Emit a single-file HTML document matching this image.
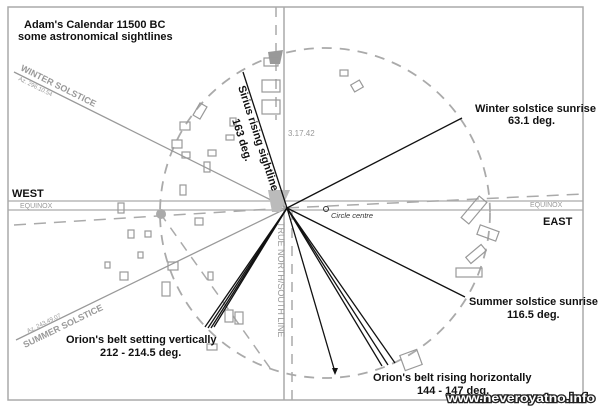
<!DOCTYPE html><html><head><style>body{margin:0;background:#fff}svg{display:block}text{font-family:"Liberation Sans",sans-serif}</style></head><body>
<svg width="600" height="407" viewBox="0 0 600 407">
<rect x="0" y="0" width="600" height="407" fill="#fff"/>
<rect x="8" y="7" width="575" height="393" fill="none" stroke="#aaa" stroke-width="1.5"/>
<line x1="284" y1="7" x2="284" y2="400" stroke="#aaa" stroke-width="1.5"/>
<line x1="8" y1="201" x2="583" y2="201" stroke="#aaa" stroke-width="1.2"/>
<line x1="8" y1="210" x2="583" y2="210" stroke="#aaa" stroke-width="1.2"/>
<line x1="276" y1="7" x2="276" y2="120" stroke="#aaa" stroke-width="1.5" stroke-dasharray="10,8"/>
<line x1="292" y1="210" x2="292" y2="400" stroke="#aaa" stroke-width="1.5" stroke-dasharray="10,8"/>
<circle cx="325" cy="213" r="165" fill="none" stroke="#aaa" stroke-width="1.8" stroke-dasharray="10,8"/>
<line x1="14" y1="225" x2="287" y2="208" stroke="#aaa" stroke-width="1.5" stroke-dasharray="12,8"/>
<line x1="287" y1="208" x2="583" y2="194" stroke="#aaa" stroke-width="1.5" stroke-dasharray="12,8"/>
<line x1="160" y1="213" x2="270" y2="368" stroke="#aaa" stroke-width="1.5" stroke-dasharray="10,8"/>
<line x1="14" y1="72" x2="287" y2="208" stroke="#999" stroke-width="1.3"/>
<line x1="16" y1="340" x2="287" y2="208" stroke="#999" stroke-width="1.3"/>
<circle cx="161" cy="214" r="5" fill="#aaa"/>
<polygon points="268,190 290,190 280,212 272,212" fill="#bbb"/>
<polygon points="268,52 283,50 280,64 270,64" fill="#999"/>
<g fill="none" stroke="#999" stroke-width="1.2">
<rect x="340" y="70" width="8" height="6"/><rect x="352" y="82" width="10" height="8" transform="rotate(-30 357 86)"/>
<rect x="196" y="104" width="8" height="14" transform="rotate(30 200 111)"/><rect x="180" y="122" width="10" height="8"/>
<rect x="172" y="140" width="10" height="8"/><rect x="182" y="152" width="8" height="6"/><rect x="208" y="150" width="8" height="6"/>
<rect x="204" y="162" width="6" height="10"/><rect x="230" y="118" width="6" height="8"/><rect x="226" y="135" width="8" height="5"/>
<rect x="180" y="185" width="6" height="10"/><rect x="118" y="203" width="6" height="10"/><rect x="195" y="218" width="8" height="7"/>
<rect x="128" y="230" width="6" height="8"/><rect x="145" y="231" width="6" height="6"/><rect x="138" y="252" width="5" height="6"/>
<rect x="105" y="262" width="5" height="6"/><rect x="120" y="272" width="8" height="8"/><rect x="168" y="262" width="10" height="8"/>
<rect x="162" y="282" width="8" height="14"/><rect x="208" y="272" width="5" height="8"/><rect x="225" y="310" width="8" height="12"/>
<rect x="235" y="312" width="8" height="12"/><rect x="207" y="344" width="10" height="6"/><rect x="264" y="58" width="14" height="8"/>
<rect x="262" y="80" width="18" height="12"/><rect x="262" y="100" width="18" height="14"/>
<rect x="460" y="205" width="28" height="10" transform="rotate(-50 474 210)"/><rect x="478" y="228" width="20" height="10" transform="rotate(20 488 233)"/>
<rect x="466" y="250" width="20" height="8" transform="rotate(-40 476 254)"/><rect x="456" y="268" width="26" height="9"/>
<rect x="402" y="352" width="18" height="16" transform="rotate(-20 411 360)"/>
</g>
<g stroke="#111" stroke-width="1.3" fill="none">
<line x1="287" y1="208" x2="243" y2="72"/>
<line x1="287" y1="208" x2="462" y2="118"/>
<line x1="287" y1="208" x2="465" y2="297"/>
<line x1="287" y1="208" x2="382" y2="366"/><line x1="287" y1="208" x2="388" y2="365"/><line x1="287" y1="208" x2="395" y2="363"/>
<line x1="287" y1="208" x2="335" y2="372"/>
<line x1="287" y1="208" x2="205" y2="327"/><line x1="287" y1="208" x2="208" y2="328"/><line x1="287" y1="208" x2="211" y2="328"/><line x1="287" y1="208" x2="214" y2="327"/>
</g>
<polygon points="335,375 332,368 338,368" fill="#111"/>
<circle cx="326" cy="209" r="2.5" fill="none" stroke="#333"/>
<g font-weight="bold" fill="#111" font-size="11">
<text x="24" y="28">Adam's Calendar 11500 BC</text>
<text x="18" y="40">some astronomical sightlines</text>
<text x="12" y="197">WEST</text>
<text x="543" y="225">EAST</text>
<text x="475" y="112" textLength="121" lengthAdjust="spacingAndGlyphs">Winter solstice sunrise</text><text x="508" y="124">63.1 deg.</text>
<text x="469" y="305" textLength="129" lengthAdjust="spacingAndGlyphs">Summer solstice sunrise</text><text x="507" y="318">116.5 deg.</text>
<text x="66" y="343">Orion's belt setting vertically</text><text x="100" y="356">212 -  214.5 deg.</text>
<text x="373" y="381">Orion's belt rising horizontally</text><text x="417" y="394">144 - 147 deg.</text>
<text transform="translate(238,87) rotate(72)" textLength="110" lengthAdjust="spacingAndGlyphs">Sirius rising sightline</text>
<text transform="translate(232,120) rotate(72)">163 deg.</text>
</g>
<g fill="#999" font-size="8">
<text transform="translate(20,70) rotate(26.5)" font-weight="bold" font-size="9">WINTER SOLSTICE</text>
<text transform="translate(18,80) rotate(26.5)" font-size="6">Az. 296.10.54</text>
<text transform="translate(25,348) rotate(-26)" font-weight="bold" font-size="9">SUMMER SOLSTICE</text>
<text transform="translate(28,333) rotate(-26)" font-size="6">Az. 243.49.07</text>
<text x="20" y="208" font-size="7">EQUINOX</text><text x="530" y="207" font-size="7">EQUINOX</text>
<text transform="translate(278,222) rotate(90)" font-size="9">TRUE NORTH/SOUTH LINE</text>
<text x="288" y="136" font-size="8">3.17.42</text>
</g>
<text x="331" y="218" font-size="7.5" font-style="italic" fill="#333">Circle centre</text>
<text x="447" y="402" font-size="12" font-weight="bold" fill="#fff" stroke="#222" stroke-width="2.5" paint-order="stroke" textLength="148" lengthAdjust="spacingAndGlyphs">www.neveroyatno.info</text>
</svg>
</body></html>
